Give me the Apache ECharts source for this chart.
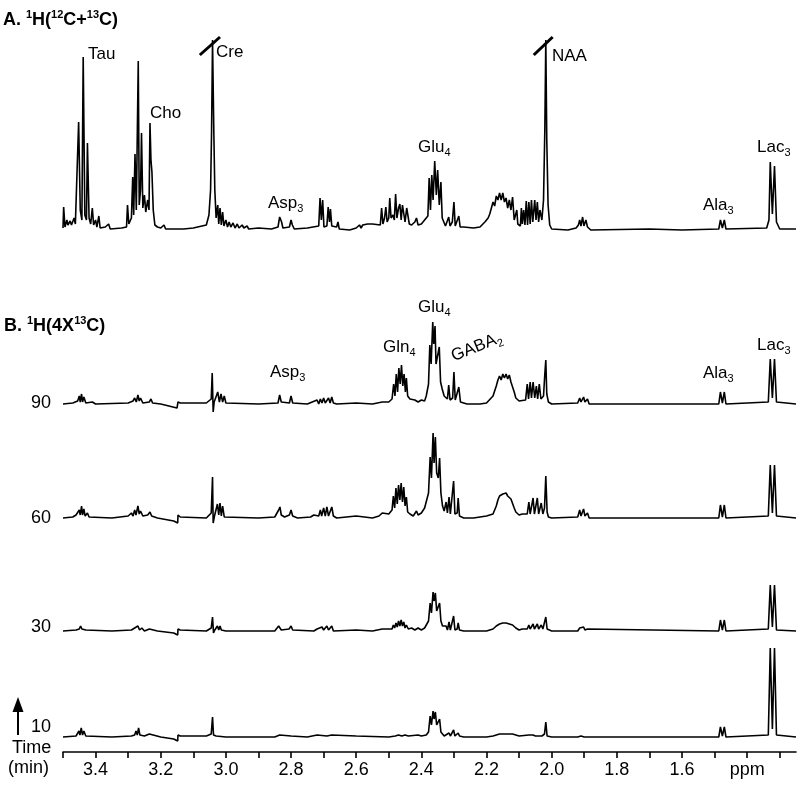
<!doctype html>
<html>
<head>
<meta charset="utf-8">
<title>1H NMR time course</title>
<script src="https://cdn.jsdelivr.net/npm/echarts@6/dist/echarts.min.js"></script>
<style>html,body{margin:0;padding:0;background:#fff;}</style>
</head>
<body>
<div id="main" style="width:800px;height:788px;"></div>
<script type="text/javascript">
var FONT = '"Liberation Sans", Arial, Helvetica, sans-serif';

// [ppm, intensity] vertices, panel A = 1H(12C+13C)
var specA = [[3.5,2],[3.498,23],[3.494,3],[3.488,10],[3.485,5],[3.478,9],[3.474,5],[3.466,12],[3.462,6],[3.456,8],[3.452,108],[3.447,20],[3.442,10],[3.438,173],[3.433,15],[3.428,10],[3.425,87],[3.42,12],[3.415,6],[3.41,22],[3.406,5],[3.4,10],[3.396,3],[3.39,14],[3.386,2],[3.37,3],[3.36,6],[3.355,1],[3.32,2],[3.305,3],[3.302,25],[3.298,6],[3.29,12],[3.286,53],[3.283,15],[3.279,76],[3.275,20],[3.269,169],[3.266,25],[3.262,40],[3.259,97],[3.255,22],[3.25,35],[3.246,18],[3.24,30],[3.236,20],[3.233,107],[3.23,70],[3.227,58],[3.223,20],[3.218,5],[3.21,3],[3.2,2],[3.19,5],[3.185,1],[3.13,1],[3.1,2],[3.06,5],[3.052,15],[3.047,40],[3.044,97],[3.041,190],[3.037,97],[3.034,40],[3.03,12],[3.025,25],[3.022,6],[3.018,22],[3.014,5],[3.01,18],[3.006,4],[3.0,10],[2.995,3],[2.99,8],[2.985,3],[2.978,7],[2.972,2],[2.965,6],[2.96,2],[2.95,5],[2.945,2],[2.935,4],[2.93,1],[2.9,2],[2.86,1],[2.84,3],[2.835,13],[2.829,8],[2.825,2],[2.805,3],[2.8,10],[2.796,5],[2.79,1],[2.75,2],[2.715,4],[2.711,32],[2.707,10],[2.703,30],[2.699,3],[2.69,4],[2.686,23],[2.682,8],[2.679,21],[2.675,4],[2.66,3],[2.656,8],[2.652,1],[2.62,0],[2.6,2],[2.59,5],[2.585,2],[2.58,5],[2.575,3],[2.565,6],[2.56,4],[2.55,6],[2.526,5],[2.522,22],[2.518,6],[2.513,12],[2.509,23],[2.505,8],[2.5,12],[2.497,32],[2.493,12],[2.487,15],[2.483,10],[2.479,36],[2.475,12],[2.47,22],[2.466,26],[2.462,10],[2.458,25],[2.454,25],[2.45,8],[2.445,22],[2.441,20],[2.437,6],[2.43,5],[2.42,8],[2.415,12],[2.41,5],[2.4,6],[2.39,10],[2.385,8],[2.38,14],[2.376,52],[2.372,20],[2.368,55],[2.364,30],[2.359,69],[2.354,35],[2.35,60],[2.345,25],[2.34,48],[2.336,12],[2.33,10],[2.326,4],[2.32,6],[2.316,13],[2.312,4],[2.305,8],[2.3,28],[2.296,4],[2.29,6],[2.285,14],[2.281,3],[2.27,3],[2.24,2],[2.22,3],[2.205,8],[2.195,12],[2.19,16],[2.185,22],[2.18,28],[2.175,24],[2.17,34],[2.165,30],[2.16,37],[2.155,30],[2.15,37],[2.145,28],[2.14,32],[2.135,22],[2.13,30],[2.125,20],[2.12,33],[2.115,10],[2.11,12],[2.107,20],[2.104,6],[2.1,8],[2.096,4],[2.093,22],[2.09,6],[2.086,20],[2.082,5],[2.078,29],[2.074,5],[2.07,28],[2.066,6],[2.062,30],[2.058,8],[2.052,30],[2.048,10],[2.044,28],[2.04,8],[2.036,20],[2.03,10],[2.025,30],[2.021,100],[2.018,190],[2.015,90],[2.011,25],[2.006,5],[2.0,1],[1.95,0],[1.925,2],[1.918,5],[1.914,10],[1.91,4],[1.905,13],[1.901,4],[1.895,10],[1.89,3],[1.885,4],[1.88,0],[1.7,1],[1.6,0],[1.487,1],[1.482,10],[1.476,2],[1.47,10],[1.465,1],[1.34,2],[1.333,10],[1.329,68],[1.3225,16],[1.316,64],[1.31,8],[1.3,1],[1.25,1]];

// panel B = 1H(4X13C), one spectrum per time point
var spec90 = [[3.5,0],[3.47,1],[3.455,3],[3.45,8],[3.447,2],[3.443,10],[3.44,2],[3.436,7],[3.43,1],[3.41,2],[3.4,0],[3.3,1],[3.285,3],[3.28,6],[3.275,2],[3.27,9],[3.266,3],[3.262,6],[3.255,1],[3.235,2],[3.23,5],[3.225,1],[3.2,0],[3.15,-4],[3.148,-5],[3.147,2],[3.14,1],[3.06,1],[3.045,5],[3.042,31],[3.039,-8],[3.036,2],[3.025,12],[3.02,2],[3.015,10],[3.01,2],[3.005,8],[3.0,1],[2.9,0],[2.84,1],[2.835,9],[2.83,2],[2.805,1],[2.8,8],[2.795,1],[2.75,0],[2.72,4],[2.715,0],[2.71,5],[2.705,1],[2.7,6],[2.695,1],[2.685,6],[2.68,1],[2.675,7],[2.67,1],[2.66,0],[2.6,1],[2.55,0],[2.52,2],[2.5,2],[2.49,5],[2.485,20],[2.481,8],[2.477,30],[2.473,12],[2.469,36],[2.465,20],[2.461,39],[2.457,18],[2.453,30],[2.449,12],[2.446,26],[2.442,8],[2.435,5],[2.42,4],[2.41,2],[2.4,4],[2.39,3],[2.385,8],[2.378,20],[2.374,59],[2.37,40],[2.365,82],[2.362,60],[2.358,78],[2.355,40],[2.349,40],[2.345,57],[2.341,22],[2.336,15],[2.33,8],[2.32,5],[2.316,19],[2.312,4],[2.304,6],[2.3,32],[2.296,4],[2.29,5],[2.285,17],[2.28,2],[2.26,0],[2.22,0],[2.2,1],[2.18,8],[2.17,18],[2.165,24],[2.16,28],[2.155,24],[2.15,30],[2.145,26],[2.14,30],[2.135,25],[2.13,29],[2.125,22],[2.12,20],[2.115,12],[2.11,6],[2.1,3],[2.08,4],[2.075,20],[2.071,5],[2.066,22],[2.062,6],[2.057,22],[2.052,6],[2.047,18],[2.043,5],[2.038,20],[2.033,5],[2.025,8],[2.021,30],[2.018,44],[2.015,10],[2.01,2],[2.0,0],[1.92,1],[1.914,6],[1.91,2],[1.902,7],[1.898,2],[1.89,5],[1.885,0],[1.487,0],[1.482,12],[1.476,1],[1.47,12],[1.465,0],[1.335,2],[1.329,45],[1.3225,6],[1.316,45],[1.31,2],[1.25,0]];

var spec60 = [[3.5,0],[3.47,1],[3.46,3],[3.455,2],[3.45,8],[3.447,3],[3.443,12],[3.44,3],[3.436,9],[3.432,2],[3.425,5],[3.42,1],[3.35,0],[3.3,2],[3.29,5],[3.285,2],[3.28,8],[3.276,3],[3.27,12],[3.266,4],[3.262,7],[3.255,2],[3.24,3],[3.233,6],[3.228,2],[3.21,0],[3.16,-3],[3.148,-5],[3.147,3],[3.14,1],[3.06,0],[3.045,5],[3.041,41],[3.039,-5],[3.035,2],[3.03,3],[3.026,14],[3.022,3],[3.018,15],[3.014,2],[3.01,12],[3.005,1],[2.9,0],[2.85,1],[2.838,8],[2.834,11],[2.83,3],[2.82,1],[2.805,3],[2.8,8],[2.795,2],[2.78,0],[2.74,1],[2.73,3],[2.727,1],[2.715,2],[2.71,8],[2.706,2],[2.7,10],[2.695,2],[2.69,11],[2.685,2],[2.675,11],[2.67,2],[2.66,0],[2.6,2],[2.55,0],[2.53,2],[2.52,5],[2.5,4],[2.49,8],[2.486,22],[2.482,10],[2.478,30],[2.474,14],[2.47,33],[2.466,18],[2.462,35],[2.458,16],[2.454,31],[2.45,12],[2.446,21],[2.442,6],[2.435,4],[2.43,6],[2.425,2],[2.415,7],[2.41,3],[2.4,5],[2.395,3],[2.39,10],[2.385,8],[2.378,25],[2.373,61],[2.369,40],[2.364,85],[2.361,55],[2.357,81],[2.353,45],[2.348,40],[2.344,60],[2.34,25],[2.335,12],[2.33,7],[2.324,16],[2.32,5],[2.315,21],[2.311,4],[2.305,6],[2.301,37],[2.297,4],[2.29,5],[2.287,20],[2.283,2],[2.27,0],[2.24,0],[2.2,2],[2.18,4],[2.17,12],[2.165,18],[2.16,22],[2.155,20],[2.15,24],[2.145,22],[2.14,25],[2.135,22],[2.13,24],[2.125,19],[2.12,17],[2.115,10],[2.11,6],[2.1,3],[2.09,4],[2.075,4],[2.07,16],[2.066,4],[2.057,20],[2.053,4],[2.044,20],[2.04,4],[2.032,15],[2.027,4],[2.022,10],[2.018,42],[2.014,6],[2.01,1],[2.0,0],[1.92,1],[1.914,8],[1.91,2],[1.902,9],[1.898,2],[1.89,5],[1.885,0],[1.487,0],[1.482,13],[1.476,1],[1.47,13],[1.465,0],[1.335,2],[1.329,53],[1.3225,5],[1.316,53],[1.31,2],[1.25,0]];

var spec30 = [[3.5,0],[3.46,1],[3.455,3],[3.45,2],[3.446,5],[3.442,2],[3.438,4],[3.43,1],[3.35,0],[3.29,1],[3.28,3],[3.276,1],[3.27,5],[3.265,1],[3.258,3],[3.25,0],[3.235,2],[3.23,1],[3.21,0],[3.16,-2],[3.148,-4],[3.147,2],[3.14,1],[3.06,0],[3.045,3],[3.041,14],[3.038,-2],[3.034,1],[3.026,5],[3.022,1],[3.018,5],[3.014,1],[3.0,0],[2.85,0],[2.838,5],[2.834,6],[2.83,1],[2.806,2],[2.8,5],[2.795,1],[2.73,0],[2.72,2],[2.715,0],[2.705,4],[2.7,1],[2.69,5],[2.685,1],[2.675,5],[2.67,0],[2.6,1],[2.55,0],[2.52,2],[2.49,2],[2.486,6],[2.482,3],[2.478,8],[2.474,4],[2.47,10],[2.466,5],[2.462,11],[2.458,5],[2.454,9],[2.45,3],[2.446,6],[2.44,2],[2.43,3],[2.42,1],[2.41,3],[2.4,1],[2.39,3],[2.385,4],[2.378,10],[2.373,28],[2.369,18],[2.364,39],[2.361,30],[2.357,38],[2.353,20],[2.348,18],[2.344,28],[2.34,10],[2.335,5],[2.33,3],[2.324,5],[2.32,1],[2.315,9],[2.311,1],[2.305,2],[2.301,15],[2.297,1],[2.29,2],[2.287,8],[2.283,1],[2.27,0],[2.2,0],[2.18,2],[2.17,5],[2.16,7],[2.15,8],[2.14,8],[2.13,7],[2.12,6],[2.11,3],[2.1,1],[2.09,2],[2.075,2],[2.07,6],[2.066,2],[2.057,7],[2.053,2],[2.044,7],[2.04,2],[2.032,6],[2.027,2],[2.022,4],[2.018,14],[2.014,2],[2.0,0],[1.92,0],[1.914,3],[1.91,1],[1.902,4],[1.898,1],[1.89,2],[1.885,0],[1.487,0],[1.482,11],[1.476,1],[1.47,11],[1.465,0],[1.335,2],[1.329,46],[1.3225,4],[1.316,46],[1.31,1],[1.25,0]];

var spec10 = [[3.5,0],[3.46,1],[3.455,2],[3.451,6],[3.448,2],[3.444,9],[3.44,2],[3.436,6],[3.43,1],[3.35,0],[3.29,1],[3.285,3],[3.28,2],[3.276,6],[3.272,2],[3.268,9],[3.264,2],[3.258,4],[3.25,1],[3.235,3],[3.23,1],[3.2,0],[3.16,-2],[3.148,-4],[3.147,2],[3.14,1],[3.06,1],[3.045,3],[3.041,20],[3.038,2],[3.03,1],[3.025,2],[3.0,0],[2.85,0],[2.835,2],[2.83,0],[2.8,1],[2.75,0],[2.72,2],[2.715,0],[2.69,1],[2.675,2],[2.67,0],[2.6,1],[2.5,0],[2.48,1],[2.47,2],[2.46,1],[2.45,2],[2.44,1],[2.41,2],[2.4,1],[2.385,2],[2.378,5],[2.373,21],[2.369,12],[2.364,26],[2.361,18],[2.357,25],[2.353,12],[2.348,10],[2.344,18],[2.34,5],[2.335,3],[2.33,1],[2.315,4],[2.311,1],[2.301,7],[2.297,1],[2.287,4],[2.283,1],[2.27,0],[2.2,0],[2.18,1],[2.16,3],[2.14,3],[2.12,3],[2.1,1],[2.07,2],[2.066,1],[2.057,2],[2.05,1],[2.044,2],[2.03,1],[2.022,3],[2.018,15],[2.014,1],[2.0,0],[1.92,0],[1.91,1],[1.9,0],[1.487,0],[1.482,10],[1.476,1],[1.47,10],[1.465,0],[1.335,2],[1.329,89],[1.3225,8],[1.316,89],[1.31,2],[1.25,0]];

var spectraB = [spec90, spec60, spec30, spec10];
var timeLabels = ['90', '60', '30', '10'];

var ppmMin = 1.25, ppmMax = 3.5;
var tickValues = [3.5, 3.4, 3.3, 3.2, 3.1, 3.0, 2.9, 2.8, 2.7, 2.6, 2.5, 2.4, 2.3, 2.2, 2.1, 2.0, 1.9, 1.8, 1.7, 1.6, 1.5, 1.4, 1.3];
var labelValues = [3.4, 3.2, 3.0, 2.8, 2.6, 2.4, 2.2, 2.0, 1.8, 1.6, 1.4];

// off-scale break marks on Cre and NAA in panel A
var breakMarks = [[[3.08, 175], [3.018, 193]], [[2.055, 175], [1.997, 193]]];

var peakLabelsA = ['Tau', 'Cho', 'Cre', 'Asp{s|3}', 'Glu{s|4}', 'NAA', 'Ala{s|3}', 'Lac{s|3}'];
var peakLabelsB = ['Asp{s|3}', 'Gln{s|4}', 'Glu{s|4}', 'GABA{s|2}', 'Ala{s|3}', 'Lac{s|3}'];

// layout (pixels)
var gridLeft = 63, gridRight = 4;
var posA = [[88, 54], [150, 113], [216, 52], [268, 203], [418, 147], [552, 56], [703, 205], [757, 147]];
var posB = [[270, 372], [383, 347], [418, 307], [452, 357], [703, 373], [757, 345]];
var baselinesB = [404, 518, 631, 737];
var timeLabelY = [403, 518, 627, 727];

var chart = echarts.init(document.getElementById('main'));

var grids = [], xAxes = [], yAxes = [], series = [];

function addPanel(data, baseline, lo, hi, extra) {
    var i = grids.length;
    grids.push({left: gridLeft, right: gridRight, top: baseline - hi, height: hi - lo});
    xAxes.push({
        gridIndex: i, type: 'value', inverse: true, min: ppmMin, max: ppmMax,
        show: false, splitLine: {show: false}
    });
    yAxes.push({gridIndex: i, type: 'value', min: lo, max: hi, show: false, splitLine: {show: false}});
    var s = {
        type: 'line', xAxisIndex: i, yAxisIndex: i, data: data,
        symbol: 'none', showSymbol: false, silent: true, animation: false,
        lineStyle: {color: '#000', width: 1.6}
    };
    if (extra) Object.assign(s, extra);
    series.push(s);
}

addPanel(specA, 230, -6, 194, {
    markLine: {
        silent: true, animation: false, symbol: ['none', 'none'],
        label: {show: false},
        lineStyle: {color: '#000', width: 3, type: 'solid'},
        data: breakMarks.map(function (b) { return [{coord: b[0]}, {coord: b[1]}]; })
    }
});
for (var k = 0; k < spectraB.length; k++) {
    var last = k === spectraB.length - 1;
    addPanel(spectraB[k], baselinesB[k], last ? -15 : -10, 100);
}

// bottom ppm axis
var ax = xAxes[xAxes.length - 1];
ax.show = true;
ax.position = 'bottom';
ax.axisLine = {show: true, onZero: false, lineStyle: {color: '#000', width: 1.6}};
ax.axisTick = {show: true, customValues: tickValues, length: 6, inside: false, lineStyle: {color: '#000', width: 1.6}};
ax.axisLabel = {
    show: true, customValues: labelValues, color: '#000', fontSize: 18, fontFamily: FONT, margin: 9,
    formatter: function (v) { return Math.abs(v - 1.4) < 1e-6 ? 'ppm' : v.toFixed(1); }
};

var subRich = {
    n: {fontFamily: FONT, fontSize: 17, lineHeight: 22, fill: '#000'},
    s: {fontFamily: FONT, fontSize: 11, verticalAlign: 'bottom', fill: '#000'}
};
var supRich = {
    b: {fontFamily: FONT, fontSize: 18, fontWeight: 'bold', lineHeight: 22, fill: '#000'},
    p: {fontFamily: FONT, fontSize: 11, fontWeight: 'bold', verticalAlign: 'top', fill: '#000'}
};

function richText(txt) {
    // wrap plain runs in {n|...}
    return txt.replace(/(^|\})([^{}]+)(?=\{|$)/g, function (m, a, b) { return a + '{n|' + b + '}'; });
}

function textEl(text, x, y, rich, opts) {
    var el = {
        type: 'text', x: x, y: y, silent: true,
        style: {
            text: text, rich: rich, fill: '#000',
            font: '17px ' + FONT,
            textAlign: 'left', textVerticalAlign: 'middle',
            align: 'left', verticalAlign: 'middle'
        }
    };
    if (opts) Object.assign(el, opts);
    return el;
}

var graphics = [];
graphics.push(textEl('{b|A. }{p|1}{b|H(}{p|12}{b|C+}{p|13}{b|C)}', 3, 20, supRich));
graphics.push(textEl('{b|B. }{p|1}{b|H(4X}{p|13}{b|C)}', 4, 326, supRich));
peakLabelsA.forEach(function (t, i) {
    graphics.push(textEl(richText(t), posA[i][0], posA[i][1], subRich));
});
peakLabelsB.forEach(function (t, i) {
    var opts = t.indexOf('GABA') === 0 ? {rotation: 22 * Math.PI / 180} : null;
    graphics.push(textEl(richText(t), posB[i][0], posB[i][1], subRich, opts));
});
timeLabels.forEach(function (t, i) {
    graphics.push({
        type: 'text', x: 51, y: timeLabelY[i], silent: true,
        style: {text: t, fill: '#000', font: '18px ' + FONT, textAlign: 'right', textVerticalAlign: 'middle', align: 'right', verticalAlign: 'middle'}
    });
});
graphics.push({
    type: 'text', x: 12, y: 748, silent: true,
    style: {text: 'Time', fill: '#000', font: '18px ' + FONT, textVerticalAlign: 'middle', verticalAlign: 'middle'}
});
graphics.push({
    type: 'text', x: 8, y: 768, silent: true,
    style: {text: '(min)', fill: '#000', font: '18px ' + FONT, textVerticalAlign: 'middle', verticalAlign: 'middle'}
});
// time arrow
graphics.push({type: 'polygon', silent: true, shape: {points: [[18, 697], [12.5, 712], [23.5, 712]]}, style: {fill: '#000'}});
graphics.push({type: 'line', silent: true, shape: {x1: 18, y1: 710, x2: 18, y2: 735}, style: {stroke: '#000', lineWidth: 2}});

chart.setOption({
    backgroundColor: '#fff',
    animation: false,
    grid: grids,
    xAxis: xAxes,
    yAxis: yAxes,
    series: series,
    graphic: {elements: graphics}
});
</script>
</body>
</html>
